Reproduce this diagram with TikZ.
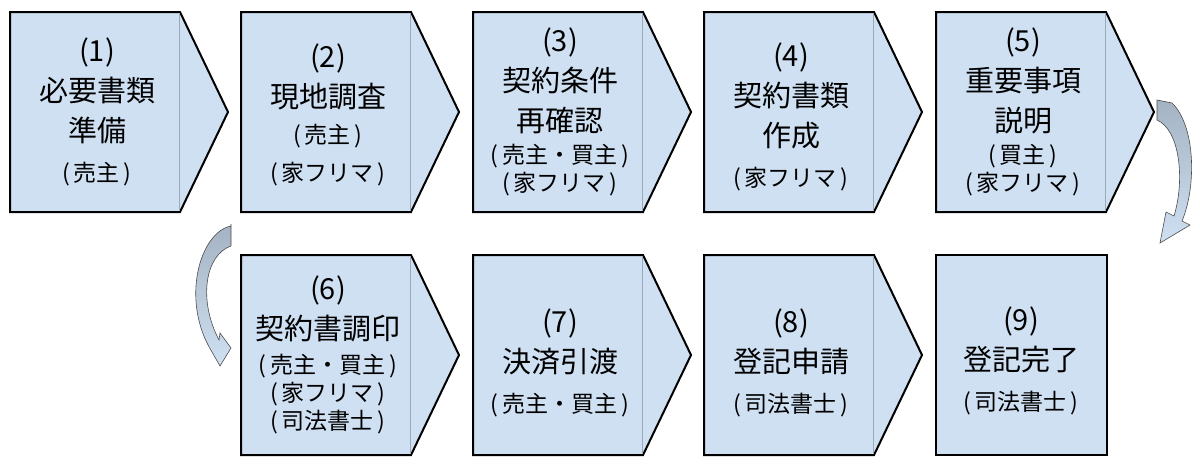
\documentclass[tikz,border=0pt]{standalone}
\usepackage{fontspec}
\setmainfont{Noto Sans CJK JP}
\begin{document}
\begin{tikzpicture}[x=1pt,y=-1pt,
  boxshape/.style={fill=boxfill,draw=black,line width=2pt,line join=miter},
  inner/.style={draw=innerline,line width=0.6pt},
  lbl/.style={align=center,inner sep=0pt,font=\fontsize{29}{40}\selectfont},
  curv/.style={draw=black!70,line width=0.6pt,top color=arrtop,bottom color=boxfill}]
\definecolor{boxfill}{HTML}{CFE0F2}
\definecolor{innerline}{HTML}{9AAABB}
\definecolor{arrtop}{HTML}{A3B3C3}
\useasboundingbox (0,0) rectangle (1200,467);
\newcommand\arrowbox[3]{% x, top y, name
  \path[boxshape] (#1,#2) -- (#1+170,#2) -- (#1+218,#2+100) -- (#1+170,#2+200) -- (#1,#2+200) -- cycle;
  \draw[inner] (#1+169,#2+1) -- (#1+169,#2+199);
  \coordinate (#3) at (#1+87,#2+100);}
\arrowbox{10}{12}{b1}
\arrowbox{241}{12}{b2}
\arrowbox{473}{12}{b3}
\arrowbox{704}{12}{b4}
\arrowbox{936}{12}{b5}
\arrowbox{241}{255}{b6}
\arrowbox{473}{255}{b7}
\arrowbox{704}{255}{b8}
\path[boxshape] (936,255) rectangle (1107,455);
\coordinate (b9) at (1021,355);
\newcommand\sm[1]{{\fontsize{23}{32}\selectfont #1}}
\node[lbl] (t1) at (b1) {(1)\\必要書類\\準備\\\sm{(\,売主\,)}};
\node[lbl] (t2) at ([yshift=-3]b2) {(2)\\現地調査\\[-4pt]\sm{(\,売主\,)}\\[-2pt]\sm{(\,家フリマ\,)}};
\node[lbl] (t3) at (b3) {(3)\\契約条件\\再確認\\[-8pt]\sm{(\,売主・買主\,)}\\[-12pt]\sm{(\,家フリマ\,)}};
\node[lbl] (t4) at ([yshift=-5]b4) {(4)\\契約書類\\作成\\\sm{(\,家フリマ\,)}};
\node[lbl] (t5) at (b5) {(5)\\重要事項\\説明\\[-8pt]\sm{(\,買主\,)}\\[-12pt]\sm{(\,家フリマ\,)}};
\node[lbl] (t6) at (b6) {(6)\\契約書調印\\[-6pt]\sm{(\,売主・買主\,)}\\[-12pt]\sm{(\,家フリマ\,)}\\[-12pt]\sm{(\,司法書士\,)}};
\node[lbl] (t7) at ([yshift=-8]b7) {(7)\\決済引渡\\\sm{(\,売主・買主\,)}};
\node[lbl] (t8) at ([yshift=-8]b8) {(8)\\登記申請\\\sm{(\,司法書士\,)}};
\node[lbl] (t9) at ([yshift=-6]b9) {(9)\\登記完了\\\sm{(\,司法書士\,)}};
% curved arrows
\path[curv] (1157,100) -- (1172,103) .. controls (1195,125) and (1197,185) .. (1182,221)
  -- (1190,225) -- (1160,243) -- (1166,212) -- (1174,216)
  .. controls (1185,180) and (1180,130) .. (1157,120) -- cycle;
\path[curv] (231,224) -- (231,226) .. controls (200,232) and (180,300) .. (212,352)
  -- (220,366) -- (231,348) -- (220,333) -- (219,340)
  .. controls (198,300) and (205,255) .. (231,246) -- cycle;
\end{tikzpicture}
\end{document}
